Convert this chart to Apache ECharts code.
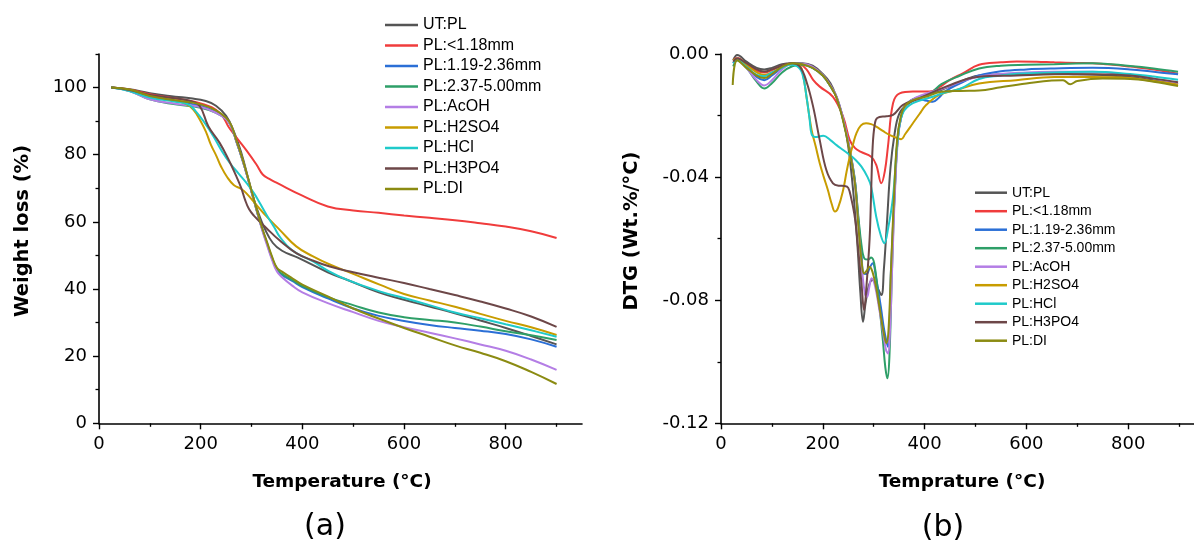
<!DOCTYPE html>
<html>
<head>
<meta charset="utf-8">
<script src="https://cdn.jsdelivr.net/npm/echarts@6/dist/echarts.min.js"></script>
<style>
html,body{margin:0;padding:0;background:#fff;}
#chart{width:1194px;height:550px;}
</style>
</head>
<body>
<div id="chart"></div>
<script>
// ---------- names & colours ----------
const seriesNames = ['UT:PL','PL:<1.18mm','PL:1.19-2.36mm','PL:2.37-5.00mm','PL:AcOH','PL:H2SO4','PL:HCl','PL:H3PO4','PL:DI'];
const seriesColors = ['#555555','#f03c3c','#2b6fd6','#2e9f68','#b47ee5','#c89c00','#1fcaca','#6d4748','#8b8b12'];

// ---------- ticks ----------
const xMajorTicks = [0,200,400,600,800];
const xMinorTicks = [100,300,500,700,900];
const tgaMajorTicks = [0,20,40,60,80,100];
const tgaMinorTicks = [10,30,50,70,90,110];
const dtgMajorTicks = [0,-0.04,-0.08,-0.12];
const dtgMinorTicks = [-0.02,-0.06,-0.10];

// ---------- (a) TGA : [temperature, weight %] ----------
const tgaUT = [[24,100],[60,99.5],[100,98.3],[150,97.3],[180,96.8],[210,96],[230,94.6],[250,91.6],[265,87],[280,80.5],[295,72],[305,66.5],[315,62],[325,58.3],[342,53.7],[360,51.4],[390,49.4],[450,45],[490,42.6],[550,39],[600,36.8],[650,34.8],[700,32.8],[750,30.6],[800,28.4],[850,26],[900,23.5]];
const tgaLt118 = [[24,100],[60,99.4],[100,98],[160,96.5],[200,95.3],[237,92.5],[257,87.8],[290,81.3],[310,77],[322,74.1],[335,72.8],[350,71.6],[400,67.8],[450,64.6],[500,63.4],[550,62.7],[600,61.9],[650,61.2],[700,60.5],[750,59.6],[800,58.6],[850,57.2],[900,55.2]];
const tga119 = [[24,100],[60,99.2],[100,97.3],[150,96],[200,94.5],[230,92.8],[250,90.8],[260,88.5],[270,84],[280,79.5],[290,74.5],[300,69],[310,63.5],[320,58.3],[330,53.8],[340,49.3],[350,45.8],[360,44.2],[380,42.4],[400,40.6],[450,37.2],[500,34.2],[550,32],[600,30.5],[650,29.3],[700,28.4],[750,27.6],[800,26.6],[850,25],[900,22.8]];
const tga237 = [[24,100],[60,99],[100,96.5],[150,95],[200,94],[230,92.5],[250,90.6],[260,88.5],[270,84],[280,79.5],[290,74.5],[300,69],[310,63.5],[320,58.3],[330,53.8],[340,49.4],[350,46],[360,44.5],[380,42.7],[400,40.9],[450,37.6],[500,35.2],[550,33],[600,31.6],[650,30.8],[700,30],[750,28.8],[800,27.4],[850,26.2],[900,24.8]];
const tgaAcOH = [[24,100],[60,99],[100,96.5],[150,95.2],[200,94.2],[230,92.5],[250,90.6],[260,88.5],[270,84],[280,79.5],[290,74.5],[300,69],[310,63.5],[320,58],[330,53.3],[340,48.8],[350,45.2],[360,43.5],[380,41],[400,39],[450,35.8],[500,33.1],[550,30.5],[600,28.6],[650,27],[700,25.3],[750,23.5],[800,21.6],[850,19],[900,15.9]];
const tgaH2SO4 = [[24,100],[60,99.3],[100,97.5],[150,96],[170,95.2],[185,93.5],[200,90],[211,86.6],[220,83],[231,79.6],[240,76.5],[251,73.6],[265,71],[280,69.8],[290,68.5],[310,65],[329,61.7],[355,57.7],[388,52.7],[420,49.8],[454,47.3],[500,44.5],[552,41.3],[600,38.5],[650,36.6],[700,34.7],[750,32.6],[800,30.5],[850,28.6],[900,26.3]];
const tgaHCl = [[24,100],[60,99],[100,97],[150,95.8],[175,95],[190,93],[210,89],[225,85.5],[240,81.5],[257,77.6],[275,74.3],[290,71.6],[305,68.5],[316,65.7],[330,62],[345,58.3],[355,55.7],[380,51.5],[421,48.2],[450,45.5],[487,42.8],[552,39.3],[600,37.3],[650,35.2],[700,33],[750,31.3],[800,29.5],[850,27.7],[900,25.8]];
const tgaH3PO4 = [[24,100],[60,99.3],[100,97.8],[150,96.8],[180,96],[198,94.5],[215,88.5],[237,83.6],[255,78.5],[270,73.6],[280,70],[287,66.7],[295,63.8],[305,61.8],[329,58.2],[355,54.5],[388,50.7],[420,48.5],[454,46.7],[500,45],[552,43.3],[600,41.8],[650,40],[700,38.2],[750,36.3],[800,34.2],[850,31.8],[900,28.7]];
const tgaDI = [[24,100],[60,99.4],[100,97.5],[150,96.2],[200,95],[230,93.2],[250,91],[260,88.8],[270,84.3],[280,79.8],[290,74.8],[300,69.3],[310,63.8],[320,58.6],[330,54.2],[340,49.8],[350,46.3],[360,45.2],[380,43.2],[400,41.3],[450,37.8],[500,34.2],[550,31.2],[600,28.4],[650,25.8],[700,23.2],[750,21],[800,18.5],[850,15.3],[900,11.7]];

// ---------- (b) DTG : [temperature, wt.%/°C] ----------
const dtgUT = [[24,-0.002],[32,-0.0003],[50,-0.0025],[70,-0.0045],[85,-0.005],[100,-0.0045],[120,-0.0033],[140,-0.003],[160,-0.003],[180,-0.0038],[200,-0.0065],[215,-0.0095],[227,-0.014],[240,-0.021],[250,-0.03],[260,-0.045],[268,-0.062],[274,-0.078],[279,-0.087],[284,-0.081],[291,-0.075],[298,-0.0734],[306,-0.0755],[315,-0.0783],[320,-0.07],[326,-0.055],[333,-0.037],[341,-0.026],[350,-0.0195],[365,-0.0165],[390,-0.0142],[420,-0.0125],[450,-0.0105],[507,-0.007],[550,-0.0066],[655,-0.0064],[700,-0.0066],[750,-0.0068],[804,-0.0075],[850,-0.0085],[898,-0.0098]];
const dtgLt118 = [[24,-0.002],[32,-0.0012],[50,-0.0035],[70,-0.0055],[85,-0.006],[100,-0.0052],[120,-0.0038],[140,-0.003],[155,-0.0033],[168,-0.005],[181,-0.0084],[194,-0.0106],[220,-0.0139],[240,-0.0204],[253,-0.028],[263,-0.0305],[275,-0.0318],[295,-0.0334],[305,-0.036],[315,-0.042],[322,-0.038],[328,-0.0301],[338,-0.016],[351,-0.0128],[377,-0.0122],[410,-0.0122],[429,-0.0108],[449,-0.0085],[475,-0.0063],[507,-0.0035],[550,-0.0027],[581,-0.0024],[620,-0.0025],[655,-0.0027],[700,-0.0029],[730,-0.003],[770,-0.0035],[804,-0.0041],[850,-0.005],[898,-0.0064]];
const dtg119 = [[24,-0.003],[32,-0.0015],[50,-0.004],[70,-0.0075],[85,-0.0085],[100,-0.007],[120,-0.0045],[140,-0.003],[160,-0.0033],[180,-0.0045],[200,-0.007],[215,-0.0105],[227,-0.014],[240,-0.0214],[253,-0.0312],[263,-0.041],[270,-0.054],[276,-0.065],[280,-0.0713],[286,-0.0715],[292,-0.0695],[298,-0.068],[305,-0.073],[314,-0.0821],[321,-0.09],[328,-0.0951],[334,-0.07],[341,-0.046],[347,-0.028],[354,-0.0205],[364,-0.0165],[383,-0.0145],[405,-0.0152],[416,-0.0155],[428,-0.0142],[440,-0.0122],[470,-0.0095],[507,-0.007],[550,-0.0056],[600,-0.005],[655,-0.0047],[730,-0.0045],[804,-0.005],[850,-0.0058],[898,-0.0066]];
const dtg237 = [[24,-0.004],[32,-0.002],[50,-0.0045],[70,-0.009],[85,-0.0112],[100,-0.0095],[120,-0.006],[140,-0.004],[160,-0.0035],[180,-0.0045],[200,-0.007],[215,-0.0105],[227,-0.014],[240,-0.0214],[253,-0.0312],[263,-0.041],[270,-0.053],[276,-0.062],[282,-0.0665],[289,-0.0668],[295,-0.0661],[301,-0.068],[310,-0.08],[318,-0.093],[323,-0.102],[327,-0.1054],[331,-0.098],[336,-0.07],[341,-0.046],[347,-0.028],[354,-0.0205],[364,-0.0165],[383,-0.0143],[410,-0.013],[433,-0.0098],[470,-0.007],[507,-0.0047],[550,-0.0038],[600,-0.0035],[655,-0.0033],[730,-0.003],[804,-0.0039],[850,-0.0047],[898,-0.0058]];
const dtgAcOH = [[24,-0.003],[32,-0.0015],[50,-0.0045],[70,-0.0085],[85,-0.0102],[100,-0.0085],[120,-0.005],[140,-0.0032],[160,-0.0032],[180,-0.0042],[200,-0.0068],[215,-0.0102],[227,-0.0138],[240,-0.021],[253,-0.031],[263,-0.042],[270,-0.056],[277,-0.07],[283,-0.078],[287,-0.0789],[291,-0.076],[296,-0.0729],[302,-0.075],[310,-0.082],[318,-0.09],[324,-0.096],[328,-0.0973],[332,-0.09],[337,-0.066],[342,-0.044],[348,-0.027],[355,-0.02],[365,-0.0163],[385,-0.014],[410,-0.0125],[440,-0.011],[480,-0.0085],[520,-0.007],[600,-0.006],[655,-0.0058],[730,-0.0058],[804,-0.0068],[850,-0.008],[898,-0.0095]];
const dtgH2SO4 = [[24,-0.002],[32,-0.0015],[50,-0.0035],[70,-0.006],[85,-0.0068],[100,-0.006],[120,-0.0042],[140,-0.0032],[155,-0.0038],[162,-0.0075],[168,-0.0139],[178,-0.0247],[186,-0.03],[194,-0.0355],[202,-0.04],[210,-0.0442],[218,-0.049],[224,-0.0512],[230,-0.05],[240,-0.0442],[247,-0.038],[253,-0.0334],[260,-0.029],[266,-0.0258],[275,-0.0232],[285,-0.0225],[295,-0.0228],[305,-0.0236],[318,-0.025],[331,-0.0263],[345,-0.0272],[354,-0.0277],[362,-0.026],[377,-0.0225],[390,-0.0195],[403,-0.0166],[429,-0.0133],[462,-0.0117],[507,-0.0096],[580,-0.0085],[655,-0.0075],[730,-0.0075],[804,-0.0078],[850,-0.0088],[898,-0.01]];
const dtgHCl = [[24,-0.003],[32,-0.002],[50,-0.0042],[70,-0.0068],[85,-0.0072],[100,-0.006],[120,-0.0045],[135,-0.0035],[150,-0.004],[160,-0.0065],[168,-0.0139],[174,-0.021],[178,-0.026],[185,-0.027],[201,-0.0266],[215,-0.028],[227,-0.0296],[240,-0.0312],[253,-0.0328],[265,-0.0345],[276,-0.0366],[288,-0.04],[295,-0.0431],[305,-0.0529],[314,-0.059],[321,-0.0615],[328,-0.057],[338,-0.0464],[347,-0.028],[357,-0.0193],[377,-0.016],[416,-0.0139],[440,-0.0125],[470,-0.0113],[507,-0.0081],[550,-0.007],[581,-0.0064],[655,-0.006],[730,-0.0058],[804,-0.0065],[850,-0.0073],[898,-0.0084]];
const dtgH3PO4 = [[24,-0.0025],[32,-0.0015],[50,-0.003],[70,-0.005],[85,-0.0057],[100,-0.005],[120,-0.0038],[140,-0.003],[155,-0.0041],[168,-0.009],[181,-0.0171],[194,-0.028],[207,-0.0377],[220,-0.042],[232,-0.0428],[243,-0.0429],[250,-0.0435],[256,-0.047],[262,-0.052],[266,-0.0572],[271,-0.066],[276,-0.0745],[281,-0.0832],[286,-0.075],[292,-0.06],[295,-0.045],[298,-0.03],[302,-0.023],[307,-0.0208],[325,-0.0202],[338,-0.0198],[357,-0.0166],[390,-0.0144],[442,-0.0106],[507,-0.0074],[581,-0.007],[655,-0.0066],[730,-0.0066],[804,-0.007],[850,-0.008],[898,-0.0092]];
const dtgDI = [[23,-0.0101],[32,-0.002],[50,-0.0045],[70,-0.007],[85,-0.0078],[100,-0.0065],[120,-0.0042],[140,-0.003],[160,-0.0033],[180,-0.0045],[200,-0.007],[215,-0.0105],[227,-0.0142],[240,-0.0218],[253,-0.0318],[263,-0.042],[270,-0.056],[276,-0.067],[281,-0.0713],[286,-0.0705],[292,-0.0691],[298,-0.071],[305,-0.076],[312,-0.083],[319,-0.09],[325,-0.094],[329,-0.09],[334,-0.07],[340,-0.046],[346,-0.028],[353,-0.0205],[362,-0.0168],[380,-0.0148],[400,-0.014],[433,-0.0123],[470,-0.012],[507,-0.0119],[550,-0.0108],[600,-0.0096],[650,-0.0086],[672,-0.0085],[686,-0.0098],[700,-0.0088],[750,-0.008],[804,-0.0081],[850,-0.009],[898,-0.0104]];

const tgaData = [tgaUT,tgaLt118,tga119,tga237,tgaAcOH,tgaH2SO4,tgaHCl,tgaH3PO4,tgaDI];
const dtgData = [dtgUT,dtgLt118,dtg119,dtg237,dtgAcOH,dtgH2SO4,dtgHCl,dtgH3PO4,dtgDI];

// ---------- build ----------
const chart = echarts.init(document.getElementById('chart'), null, {renderer:'canvas'});
const tickFont = 'DejaVu Sans';
const titleFont = 'DejaVu Sans';
const lineStyleAxis = {color:'#000', width:1.6};

function mainX(grid){
  return {type:'value', gridIndex:grid, min:0, max:950, position:'bottom',
    axisLine:{show:true, onZero:false, lineStyle:lineStyleAxis},
    axisTick:{show:true, length:6, lineStyle:{color:'#000', width:1.4}, customValues:xMajorTicks},
    axisLabel:{show:true, customValues:xMajorTicks, margin:12, color:'#000', fontSize:18, fontFamily:tickFont},
    splitLine:{show:false}};
}
function minorX(grid){
  return {type:'value', gridIndex:grid, min:0, max:950, position:'bottom', offset:0,
    axisLine:{show:false, onZero:false},
    axisTick:{show:true, length:3.5, lineStyle:{color:'#000', width:1.3}, customValues:xMinorTicks},
    axisLabel:{show:false}, splitLine:{show:false}};
}
function mainY(grid, min, max, ticks, fmt){
  return {type:'value', gridIndex:grid, min:min, max:max, position:'left',
    axisLine:{show:true, onZero:false, lineStyle:lineStyleAxis},
    axisTick:{show:true, length:6, lineStyle:{color:'#000', width:1.4}, customValues:ticks},
    axisLabel:{show:true, customValues:ticks, margin:12, color:'#000', fontSize:18, fontFamily:tickFont, formatter:fmt},
    splitLine:{show:false}};
}
function minorY(grid, min, max, ticks){
  return {type:'value', gridIndex:grid, min:min, max:max, position:'left', offset:0,
    axisLine:{show:false, onZero:false},
    axisTick:{show:true, length:3.5, lineStyle:{color:'#000', width:1.3}, customValues:ticks},
    axisLabel:{show:false}, splitLine:{show:false}};
}

const series = [];
seriesNames.forEach((n,i)=>{
  series.push({name:n, type:'line', xAxisIndex:0, yAxisIndex:0, data:tgaData[i],
    showSymbol:false, symbol:'none', smooth:0.45,
    lineStyle:{color:seriesColors[i], width:2}, itemStyle:{color:seriesColors[i]}, z:2+i});
});
seriesNames.forEach((n,i)=>{
  series.push({name:n, type:'line', xAxisIndex:2, yAxisIndex:2, data:dtgData[i],
    showSymbol:false, symbol:'none', smooth:0.4,
    lineStyle:{color:seriesColors[i], width:2}, itemStyle:{color:seriesColors[i]}, z:2+i});
});

function textEl(str, x, y, size, weight, rot){
  return {type:'text', x:x, y:y, rotation:rot||0, silent:true,
    style:{text:str, x:0, y:0, fill:'#000', font: weight+' '+size+'px "'+titleFont+'"', align:'center', verticalAlign:'middle'}};
}

const option = {
  animation:false,
  backgroundColor:'#fff',
  grid:[
    {left:99, top:54, width:483, height:369.3, outerBoundsMode:'none', containLabel:false},
    {left:721, top:54, width:483.5, height:369.3, outerBoundsMode:'none', containLabel:false}
  ],
  xAxis:[mainX(0), minorX(0), mainX(1), minorX(1)],
  yAxis:[
    mainY(0, 0, 110, tgaMajorTicks),
    minorY(0, 0, 110, tgaMinorTicks),
    mainY(1, -0.12, 0, dtgMajorTicks, v=>v.toFixed(2)),
    minorY(1, -0.12, 0, dtgMinorTicks)
  ],
  legend:[
    {data:seriesNames, orient:'vertical', left:385, top:17, padding:0, itemWidth:33, itemHeight:2.5, itemGap:4.5, icon:'rect',
      textStyle:{fontSize:16, fontFamily:'Liberation Sans', color:'#000'}, selectedMode:false},
    {data:seriesNames, orient:'vertical', left:975, top:185.7, padding:0, itemWidth:32, itemHeight:2.5, itemGap:4.5, icon:'rect',
      textStyle:{fontSize:14, fontFamily:'Liberation Sans', color:'#000'}, selectedMode:false}
  ],
  graphic:[
    textEl('Weight loss (%)', 23, 231, 19.5, 'bold', Math.PI/2),
    textEl('DTG (Wt.%/°C)', 632, 231, 19.5, 'bold', Math.PI/2),
    textEl('Temperature (°C)', 342, 482, 18.5, 'bold'),
    textEl('Temprature (°C)', 962, 482, 18.5, 'bold'),
    textEl('(a)', 325, 527, 30, 'normal'),
    textEl('(b)', 943, 528, 30, 'normal')
  ],
  series:series
};
chart.setOption(option);
</script>
</body>
</html>
